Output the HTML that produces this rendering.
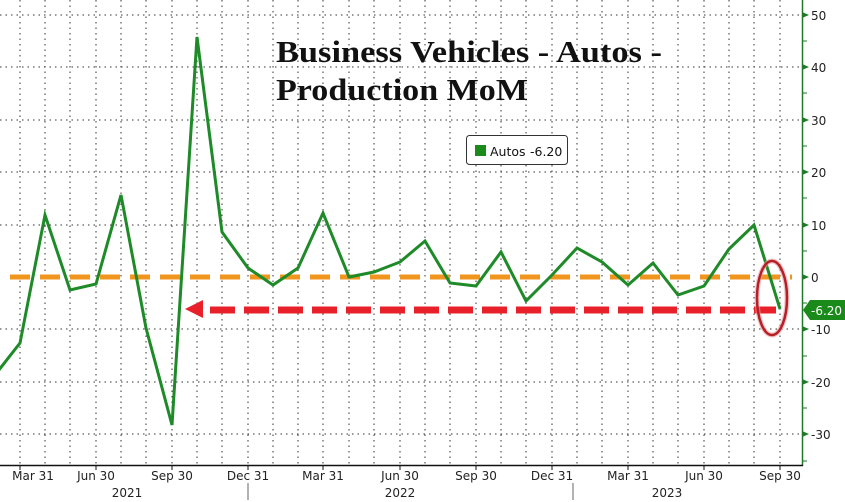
<!DOCTYPE html>
<html><head><meta charset="utf-8"><style>
html,body{margin:0;padding:0;background:#fff;width:845px;height:502px;overflow:hidden}
svg{display:block}
text{font-family:"DejaVu Sans","Liberation Sans",sans-serif}
</style></head><body>
<svg width="845" height="502" viewBox="0 0 845 502" xmlns="http://www.w3.org/2000/svg">
<rect width="845" height="502" fill="#fff"/>
<g stroke="#333" stroke-width="1" stroke-dasharray="1.5,4" fill="none">
<line x1="0" y1="15" x2="800" y2="15"/><line x1="0" y1="67" x2="800" y2="67"/>
<line x1="0" y1="120" x2="800" y2="120"/><line x1="0" y1="172" x2="800" y2="172"/>
<line x1="0" y1="225" x2="800" y2="225"/><line x1="0" y1="329" x2="800" y2="329"/>
<line x1="0" y1="382" x2="800" y2="382"/><line x1="0" y1="434" x2="800" y2="434"/>
</g>
<g stroke="#333" stroke-width="1" stroke-dasharray="1.5,4">
<line x1="20" y1="0" x2="20" y2="465"/><line x1="45" y1="0" x2="45" y2="465"/><line x1="70" y1="0" x2="70" y2="465"/>
<line x1="96" y1="0" x2="96" y2="465"/><line x1="121" y1="0" x2="121" y2="465"/><line x1="146" y1="0" x2="146" y2="465"/>
<line x1="172" y1="0" x2="172" y2="465"/><line x1="197" y1="0" x2="197" y2="465"/><line x1="222" y1="0" x2="222" y2="465"/>
<line x1="248" y1="0" x2="248" y2="465"/><line x1="273" y1="0" x2="273" y2="465"/><line x1="298" y1="0" x2="298" y2="465"/>
<line x1="323" y1="0" x2="323" y2="465"/><line x1="349" y1="0" x2="349" y2="465"/><line x1="374" y1="0" x2="374" y2="465"/>
<line x1="400" y1="0" x2="400" y2="465"/><line x1="425" y1="0" x2="425" y2="465"/><line x1="450" y1="0" x2="450" y2="465"/>
<line x1="476" y1="0" x2="476" y2="465"/><line x1="501" y1="0" x2="501" y2="465"/><line x1="526" y1="0" x2="526" y2="465"/>
<line x1="552" y1="0" x2="552" y2="465"/><line x1="577" y1="0" x2="577" y2="465"/><line x1="602" y1="0" x2="602" y2="465"/>
<line x1="628" y1="0" x2="628" y2="465"/><line x1="653" y1="0" x2="653" y2="465"/><line x1="678" y1="0" x2="678" y2="465"/>
<line x1="704" y1="0" x2="704" y2="465"/><line x1="729" y1="0" x2="729" y2="465"/><line x1="754" y1="0" x2="754" y2="465"/>
<line x1="780" y1="0" x2="780" y2="465"/>
</g>
<text x="276" y="62" font-weight="bold" font-size="31" fill="#111" textLength="386" lengthAdjust="spacingAndGlyphs" style="font-family:'Liberation Serif',serif">Business Vehicles - Autos -</text>
<text x="276" y="100" font-weight="bold" font-size="31" fill="#111" textLength="252" lengthAdjust="spacingAndGlyphs" style="font-family:'Liberation Serif',serif">Production MoM</text>
<rect x="466.5" y="135.5" width="101" height="29" rx="3" fill="#fff" stroke="#333"/>
<rect x="475" y="145" width="11" height="11" fill="#1a8a1a"/>
<text x="490" y="156" font-size="12.5" fill="#111">Autos</text>
<text x="530" y="156" font-size="12.5" fill="#111">-6.20</text>
<line x1="10" y1="277" x2="792" y2="277" stroke="#f0961e" stroke-width="5" stroke-dasharray="20,10"/>
<polyline fill="none" stroke="#1e8a28" stroke-width="3" points="-5,375 20,343 45,215 70,290 96,284 121,195 146,328 172,425 197,37 222,232 248,268 273,285 298,268 323,213 349,277 374,272 400,262 425,241 450,283 476,286 501,252 526,301 552,275 577,248 602,262 628,285 653,263 678,295 704,286 729,249 754,225 780,309"/>
<line x1="210" y1="310" x2="776" y2="310" stroke="#e8202a" stroke-width="7" stroke-dasharray="25,9"/>
<polygon points="185,309 203,300 203,318" fill="#e8202a"/>
<ellipse cx="772" cy="298" rx="15" ry="37" fill="none" stroke="#e8a0a0" stroke-width="5" opacity="0.6"/>
<ellipse cx="772" cy="298" rx="15" ry="37" fill="none" stroke="#b81e28" stroke-width="2.5"/>
<line x1="802.5" y1="0" x2="802.5" y2="466" stroke="#1e7a28" stroke-width="1.5"/>
<line x1="0" y1="465.5" x2="803" y2="465.5" stroke="#111" stroke-width="1.5"/>
<g fill="#1e7a28">
<polygon points="802,12 809,15 802,18"/><polygon points="802,64 809,67 802,70"/>
<polygon points="802,117 809,120 802,123"/><polygon points="802,169 809,172 802,175"/>
<polygon points="802,222 809,225 802,228"/><polygon points="802,274 809,277 802,280"/>
<polygon points="802,326 809,329 802,332"/><polygon points="802,379 809,382 802,385"/>
<polygon points="802,431 809,434 802,437"/>
</g>
<g stroke="#1e7a28" stroke-width="1">
<line x1="802" y1="41" x2="807" y2="41"/><line x1="802" y1="93" x2="807" y2="93"/><line x1="802" y1="146" x2="807" y2="146"/>
<line x1="802" y1="198" x2="807" y2="198"/><line x1="802" y1="251" x2="807" y2="251"/><line x1="802" y1="303" x2="807" y2="303"/>
<line x1="802" y1="356" x2="807" y2="356"/><line x1="802" y1="408" x2="807" y2="408"/><line x1="802" y1="461" x2="807" y2="461"/>
</g>
<g font-size="12" fill="#222">
<text x="811" y="20">50</text><text x="811" y="72">40</text><text x="811" y="125">30</text>
<text x="811" y="177">20</text><text x="811" y="230">10</text><text x="811" y="282">0</text>
<text x="811" y="334">-10</text><text x="811" y="387">-20</text><text x="811" y="439">-30</text>
</g>
<polygon points="803,310 810,300 845,300 845,320 810,320" fill="#1a8a1a"/>
<text x="811" y="315" font-size="12" fill="#fff">-6.20</text>
<g stroke="#111" stroke-width="1">
<line x1="20" y1="465" x2="20" y2="470"/><line x1="96" y1="465" x2="96" y2="470"/><line x1="172" y1="465" x2="172" y2="470"/>
<line x1="248" y1="465" x2="248" y2="470"/><line x1="323" y1="465" x2="323" y2="470"/><line x1="400" y1="465" x2="400" y2="470"/>
<line x1="476" y1="465" x2="476" y2="470"/><line x1="552" y1="465" x2="552" y2="470"/><line x1="628" y1="465" x2="628" y2="470"/>
<line x1="704" y1="465" x2="704" y2="470"/><line x1="780" y1="465" x2="780" y2="470"/>
<line x1="248" y1="483" x2="248" y2="500" stroke="#666"/><line x1="573" y1="483" x2="573" y2="500" stroke="#666"/>
</g>
<g font-size="12" fill="#222" text-anchor="middle">
<text x="33" y="480">Mar 31</text><text x="96" y="480">Jun 30</text><text x="172" y="480">Sep 30</text>
<text x="248" y="480">Dec 31</text><text x="323" y="480">Mar 31</text><text x="400" y="480">Jun 30</text>
<text x="476" y="480">Sep 30</text><text x="552" y="480">Dec 31</text><text x="628" y="480">Mar 31</text>
<text x="704" y="480">Jun 30</text><text x="780" y="480">Sep 30</text>
<text x="127" y="497">2021</text><text x="400" y="497">2022</text><text x="667" y="497">2023</text>
</g>
</svg>
</body></html>
